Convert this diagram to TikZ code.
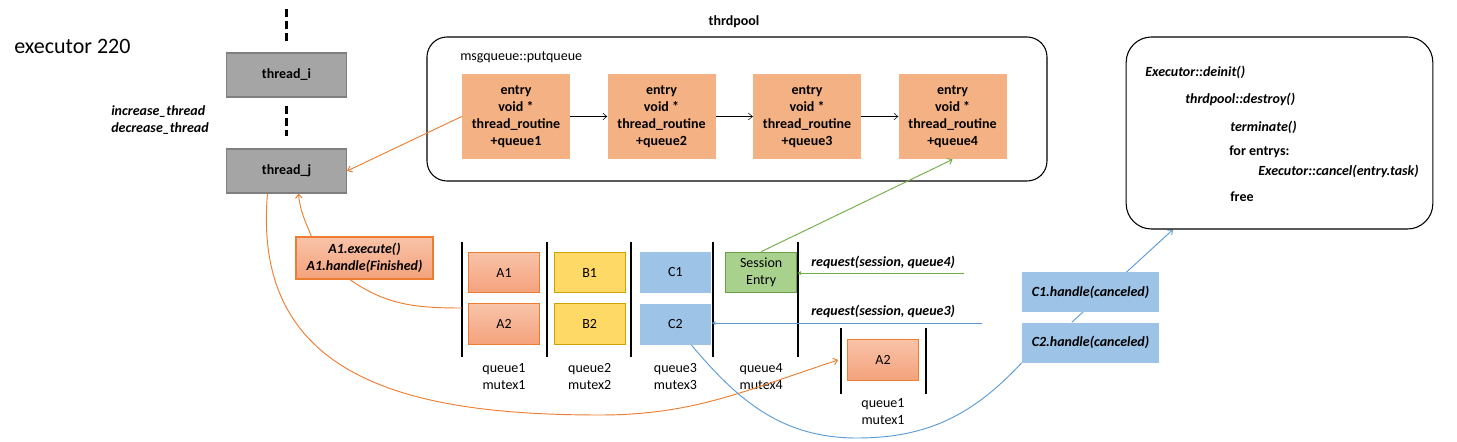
\documentclass[tikz,border=0pt]{standalone}
\usepackage{fontspec}
\setmainfont{Carlito}
\usetikzlibrary{positioning, arrows.meta}
\pgfdeclarelayer{background}
\pgfsetlayers{background,main}

\definecolor{thrgray}{HTML}{A5A5A5}
\definecolor{thrborder}{HTML}{7F7F7F}
\definecolor{entryorange}{HTML}{F4B183}
\definecolor{aorange}{HTML}{ED7D31}
\definecolor{atop}{HTML}{F8C3A8}
\definecolor{abot}{HTML}{F4A27C}
\definecolor{byellow}{HTML}{FFD966}
\definecolor{bborder}{HTML}{C9A400}
\definecolor{cblue}{HTML}{9DC3E6}
\definecolor{lineblue}{HTML}{5B9BD5}
\definecolor{sgreen}{HTML}{A9D18E}
\definecolor{sborder}{HTML}{6A9F45}
\definecolor{linegreen}{HTML}{70AD47}

\begin{document}
\begin{tikzpicture}[x=0.75pt, y=-0.75pt,
        font=\fontsize{10.5}{12.7}\selectfont,
        barb/.style = {-{Straight Barb[length=3pt, width=5pt]}},
        filltip/.style = {-{Latex[length=3pt, width=3pt]}},
        oline/.style = {draw=aorange, line width=0.7pt},
        bline/.style = {draw=lineblue, line width=0.7pt},
        gline/.style = {draw=linegreen, line width=0.7pt},
        dashline/.style = {line width=2pt, dash pattern=on 6pt off 3pt},
        sepline/.style = {line width=0.8pt},
        thread/.style = {draw=thrborder, fill=thrgray, line width=0.8pt, minimum width=90pt, minimum height=33pt, font=\fontsize{10.5}{12.7}\selectfont\bfseries},
        entry/.style = {fill=entryorange, minimum width=81pt, minimum height=64pt, align=center, font=\fontsize{10.5}{12.7}\selectfont\bfseries},
        qbox/.style = {minimum width=53pt, minimum height=30.5pt, line width=0.8pt},
        abox/.style = {qbox, draw=aorange, top color=atop, bottom color=abot},
        bbox/.style = {qbox, draw=bborder, fill=byellow},
        cbox/.style = {qbox, fill=cblue},
        sbox/.style = {qbox, draw=sborder, fill=sgreen, align=center, inner sep=1pt},
        hbox/.style = {fill=cblue, minimum width=102.75pt, minimum height=30pt, font=\fontsize{10.5}{12.7}\selectfont\bfseries\itshape},
        qlabel/.style = {align=center},
        lbl/.style = {font=\fontsize{10.5}{12.7}\selectfont\bfseries\itshape, inner sep=0pt, align=left},
        code/.style = {anchor=west, inner sep=0pt},
    ]
    \useasboundingbox (0,0) rectangle (1457,442);

    \node[code, font=\fontsize{16.5}{19}\selectfont] (title) at (14,46) {executor 220};

    % threads
    \node[thread] (thi) at (286.5,75) {thread\_i};
    \node[thread] (thj) at (286.5,171) {thread\_j};
    \draw[dashline] ([yshift=8.25pt]thi.north) -- ([yshift=32.25pt]thi.north);
    \draw[dashline] ([yshift=-6pt]thi.south) -- ([yshift=9pt]thj.north);
    \node[lbl, anchor=west] (resize) at (111,120.5) {increase\_thread\\decrease\_thread};

    % thread pool
    \node[draw, line width=0.8pt, rounded corners=15pt, minimum width=465pt, minimum height=108pt] (pool) at (737,109) {};
    \node[font=\fontsize{10.5}{12.7}\selectfont\bfseries] (poolname) at (734,22) {thrdpool};
    \node[code] (putq) at (460,57) {msgqueue::putqueue};
    \node[entry] (e1) at (516,116.5) {entry\\void *\\thread\_routine\\+queue1};
    \node[entry, right=27.75pt of e1] (e2) {entry\\void *\\thread\_routine\\+queue2};
    \node[entry, right=27.75pt of e2] (e3) {entry\\void *\\thread\_routine\\+queue3};
    \node[entry, right=27.75pt of e3] (e4) {entry\\void *\\thread\_routine\\+queue4};
    \draw[barb] (e1) -- (e2);
    \draw[barb] (e2) -- (e3);
    \draw[barb] (e3) -- (e4);

    % deinit
    \node[draw, line width=0.8pt, rounded corners=19pt, minimum width=230pt, minimum height=144pt] (deinit) at (1279.5,133) {};
    \node[lbl, anchor=west] (d1) at (1145,72) {Executor::deinit()};
    \node[lbl, anchor=west] (d2) at (1185,99) {thrdpool::destroy()};
    \node[lbl, anchor=west] (d3) at (1230,127) {terminate()};
    \node[code, font=\fontsize{10.5}{12.7}\selectfont\bfseries] (d4) at (1229,152) {for entrys:};
    \node[lbl, anchor=west] (d5) at (1258,171) {Executor::cancel(entry.task)};
    \node[code, font=\fontsize{10.5}{12.7}\selectfont\bfseries] (d6) at (1230,197) {free};

    % queues
    \foreach \x in {462,547,631,713,798}
        \draw[sepline] (\x,242) -- (\x,357);
    \node[abox] (a1) at (504,272.5) {A1};
    \node[abox, below=7.5pt of a1] (a2) {A2};
    \node[bbox, right=10.5pt of a1] (b1) {B1};
    \node[bbox, right=10.5pt of a2] (b2) {B2};
    \node[cbox, right=10.5pt of b1] (c1) {C1};
    \node[cbox, right=10.5pt of b2] (c2) {C2};
    \node[sbox, right=10.5pt of c1] (sess) {Session\\Entry};
    \node[qlabel, below=10pt of a2] (ql1) {queue1\\mutex1};
    \node[qlabel, below=10pt of b2] (ql2) {queue2\\mutex2};
    \node[qlabel, below=10pt of c2] (ql3) {queue3\\mutex3};
    \node[qlabel] (ql4) at (ql3 -| sess) {queue4\\mutex4};

    \node[lbl, anchor=west] (req4) at (811,262) {request(session, queue4)};
    \node[lbl, anchor=west] (req3) at (811,311) {request(session, queue3)};
    \coordinate (r4) at (964,273);
    \coordinate (r3) at (982,323);
    \draw[gline, filltip] (r4) -- (r4 -| sess.east);
    \draw[bline, filltip] (r3) -- (r3 -| c2.east);

    % moved entry
    \draw[sepline] (841,328) -- (841,394);
    \draw[sepline] (926,328) -- (926,394);
    \node[abox] (a2b) at (883,360) {A2};
    \node[qlabel, below=10pt of a2b] (ql1b) {queue1\\mutex1};

    \node[hbox] (c1h) at (1090.5,292) {C1.handle(canceled)};
    \node[hbox] (c2h) at (1090.5,342.5) {C2.handle(canceled)};
    \node[abox, minimum width=102.75pt, minimum height=31.5pt, align=center, font=\fontsize{10.5}{12.7}\selectfont\bfseries\itshape] (aexec) at (364.5,258) {A1.execute()\\A1.handle(Finished)};

    % connectors
    \draw[oline, barb] (e1.west) -- (thj.east);
    \draw[oline, barb] ([xshift=12pt]aexec.north west) to[out=112, in=-85] ([xshift=9pt]thj.south);
    \coordinate (q1cut) at (462,308);
    \draw[oline] ([xshift=-11pt]aexec.south) to[out=-35, in=180] (q1cut);
    \draw[oline, barb] ([xshift=-14.25pt]thj.south) to[out=-95, in=180, looseness=1.2] (600,415) to[out=0, in=198] ([xshift=-6.75pt]a2b.west);
    \draw[gline, barb] (sess.north) -- (e4.south);
    \draw[bline] ([xshift=12pt]c2.south) to[out=-50, in=180] (857,438) to[out=0, in=-133] (c2h.south west);
    \begin{pgfonlayer}{background}
        \draw[bline, barb] ([xshift=-14pt]c2h.north) -- ([xshift=-79.9pt]deinit.south);
    \end{pgfonlayer}
\end{tikzpicture}
\end{document}
